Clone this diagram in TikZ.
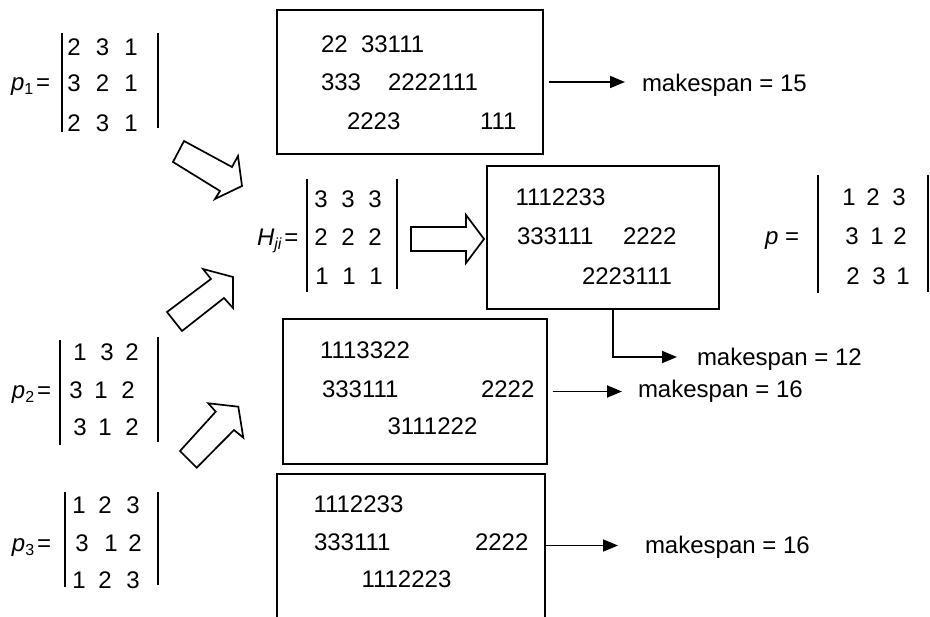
\documentclass[tikz,border=0pt]{standalone}
\usepackage{fontspec}
\setmainfont{Liberation Sans}
\usetikzlibrary{arrows.meta}
\newcommand{\sbs}[1]{\raisebox{-3.5pt}{\fontsize{16}{16}\selectfont #1}}
\begin{document}
\begin{tikzpicture}[x=1pt,y=-1pt,
  every node/.style={inner sep=0pt, outer sep=0pt, font=\fontsize{24}{28}\selectfont},
  txt/.style={anchor=base west},
  dig/.style={anchor=base},
  gbox/.style={draw, line width=1.8pt, rectangle, minimum width=#1},
  bar/.style={line width=1.6pt},
  hollow/.style={draw, line width=1.7pt, line join=miter, fill=white},
  conn/.style={line width=1.8pt, -{Triangle[length=15pt,width=12pt]}}]
\useasboundingbox (0,0) rectangle (930,617);

% ---------- matrix p1 ----------
\node[txt] (lp1) at (11,91) {{\itshape p}\sbs{1}\hspace{3pt}=};
\coordinate (p1tl) at (62,33);  \coordinate (p1bl) at (62,132);
\coordinate (p1tr) at (158,33); \coordinate (p1br) at (158,128);
\draw[bar] (p1tl) -- (p1bl);
\draw[bar] (p1tr) -- (p1br);
\node[dig] (p1a) at (74,56) {2};  \node[dig] (p1b) at (102.5,56) {3}; \node[dig] (p1c) at (131,56) {1};
\node[dig] (p1d) at (74,92) {3};  \node[dig] (p1e) at (102.5,92) {2}; \node[dig] (p1f) at (131,92) {1};
\node[dig] (p1g) at (74,132) {2}; \node[dig] (p1h) at (102.5,132) {3}; \node[dig] (p1i) at (131,132) {1};

% ---------- matrix p2 ----------
\node[txt] (lp2) at (12,399) {{\itshape p}\sbs{2}\hspace{3pt}=};
\coordinate (p2tl) at (60,340);  \coordinate (p2bl) at (60,445);
\coordinate (p2tr) at (158,337); \coordinate (p2br) at (158,442);
\draw[bar] (p2tl) -- (p2bl);
\draw[bar] (p2tr) -- (p2br);
\node[dig] (p2a) at (80,361) {1};  \node[dig] (p2b) at (107,361) {3}; \node[dig] (p2c) at (132,361) {2};
\node[dig] (p2d) at (76,399) {3};  \node[dig] (p2e) at (101,399) {1}; \node[dig] (p2f) at (128,399) {2};
\node[dig] (p2g) at (80,436) {3};  \node[dig] (p2h) at (105,436) {1}; \node[dig] (p2i) at (132,436) {2};

% ---------- matrix p3 ----------
\node[txt] (lp3) at (12,552) {{\itshape p}\sbs{3}\hspace{3pt}=};
\coordinate (p3tl) at (65,492);  \coordinate (p3bl) at (65,587);
\coordinate (p3tr) at (158,492); \coordinate (p3br) at (158,585);
\draw[bar] (p3tl) -- (p3bl);
\draw[bar] (p3tr) -- (p3br);
\node[dig] (p3a) at (79,514) {1};  \node[dig] (p3b) at (105,514) {2}; \node[dig] (p3c) at (133,514) {3};
\node[dig] (p3d) at (82,552) {3};  \node[dig] (p3e) at (111,552) {1}; \node[dig] (p3f) at (135,552) {2};
\node[dig] (p3g) at (79,589) {1};  \node[dig] (p3h) at (105,589) {2}; \node[dig] (p3i) at (133,589) {3};

% ---------- matrix H ----------
\node[txt] (lH) at (257,246) {{\itshape H}\sbs{\itshape ji}\hspace{3pt}=};
\coordinate (Htl) at (307,179); \coordinate (Hbl) at (307,292);
\coordinate (Htr) at (397,179); \coordinate (Hbr) at (397,289);
\draw[bar] (Htl) -- (Hbl);
\draw[bar] (Htr) -- (Hbr);
\node[dig] (Ha) at (321,208) {3}; \node[dig] (Hb) at (348,208) {3}; \node[dig] (Hc) at (375,208) {3};
\node[dig] (Hd) at (321,246) {2}; \node[dig] (He) at (348,246) {2}; \node[dig] (Hf) at (375,246) {2};
\node[dig] (Hg) at (322,285) {1}; \node[dig] (Hh) at (349,285) {1}; \node[dig] (Hi) at (376,285) {1};

% ---------- matrix p ----------
\node[txt] (lp) at (765,245) {{\itshape p} =};
\coordinate (ptl) at (818,175); \coordinate (pbl) at (818,293);
\coordinate (ptr) at (928,175); \coordinate (pbr) at (928,292);
\draw[bar] (ptl) -- (pbl);
\draw[bar] (ptr) -- (pbr);
\node[dig] (pa) at (849,206) {1}; \node[dig] (pb) at (873,206) {2}; \node[dig] (pc) at (899,206) {3};
\node[dig] (pd) at (852,245) {3}; \node[dig] (pe) at (877,245) {1}; \node[dig] (pf) at (900,245) {2};
\node[dig] (pg) at (853,285) {2}; \node[dig] (ph) at (879,285) {3}; \node[dig] (pi) at (903,285) {1};

% ---------- box 1 ----------
\node[gbox=266pt, minimum height=144pt] (b1) at (410,82) {};
\node[txt] (t11a) at (321,53) {22};
\node[txt] (t11b) at (361,53) {33111};
\node[txt] (t12a) at (321,91) {333};
\node[txt] (t12b) at (388,91) {2222111};
\node[txt] (t13a) at (347,130) {2223};
\node[txt] (t13b) at (480,130) {111};
\node[txt] (m15) at (642,92) {makespan = 15};
\draw[conn, shorten <=6pt, shorten >=17pt] (b1.east) -- (b1.east -| m15.west);

% ---------- box 2 ----------
\node[gbox=232pt, minimum height=143pt] (b2) at (603,237.5) {};
\node[txt] (t21) at (515.5,206) {1112233};
\node[txt] (t22a) at (517,245) {333111};
\node[txt] (t22b) at (623,245) {2222};
\node[txt] (t23) at (582,285) {2223111};
\node[txt] (m12) at (697,366) {makespan = 12};
\coordinate (k12) at (613,357);
\draw[conn, shorten >=20pt] (b2.south -| k12) -- (k12) -- (k12 -| m12.west);

% ---------- box 3 ----------
\node[gbox=264pt, minimum height=145pt] (b3) at (415,391.5) {};
\node[txt] (t31) at (320,359) {1113322};
\node[txt] (t32a) at (322,398) {333111};
\node[txt] (t32b) at (481,398) {2222};
\node[txt] (t33) at (387.5,435) {3111222};
\node[txt] (m16a) at (638,398) {makespan = 16};
\draw[conn, shorten <=6pt, shorten >=16pt] (b3.east) -- (b3.east -| m16a.west);

% ---------- box 4 (open at the bottom) ----------
\node[minimum width=268pt, minimum height=143pt] (b4) at (411,545.5) {};
\draw[line width=1.8pt] (b4.south west) -- (b4.north west) -- (b4.north east) -- (b4.south east);
\node[txt] (t41) at (313.5,513) {1112233};
\node[txt] (t42a) at (314,551) {333111};
\node[txt] (t42b) at (475,551) {2222};
\node[txt] (t43) at (361.5,588) {1112223};
\node[txt] (m16b) at (645,553.5) {makespan = 16};
\draw[conn, shorten >=27pt] (b4.east) -- (b4.east -| m16b.west);

% ---------- hollow block arrows ----------
\draw[hollow] (184,141) -- (232,167) -- (238,156) -- (242,186) -- (215,199) -- (220,191) -- (173,162) -- cycle;
\draw[hollow] (167,312) -- (211,279) -- (203,269) -- (233,277) -- (233,308) -- (224,298) -- (182,331) -- cycle;
\draw[hollow] (180,451) -- (215.7,411.7) -- (208.3,403.3) -- (238.3,406.7) -- (243.3,437.7) -- (234,430) -- (196.7,467.7) -- cycle;
\draw[hollow] (411,227) -- (466,227) -- (466,215) -- (484,239) -- (466,263) -- (466,251) -- (411,251) -- cycle;
\end{tikzpicture}
\end{document}
